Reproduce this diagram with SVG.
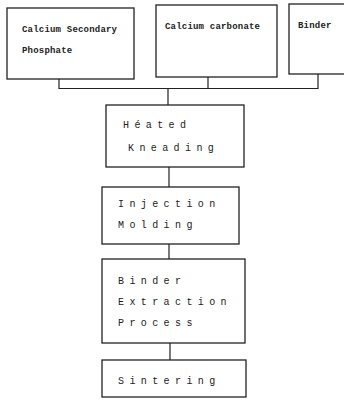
<svg xmlns="http://www.w3.org/2000/svg" width="344" height="401" viewBox="0 0 344 401">
<style>
.box{fill:#fff;stroke:#222;stroke-width:1.3}
.ln{fill:none;stroke:#222;stroke-width:1.2}
.t1{font-family:"Liberation Mono",monospace;font-size:9px;font-weight:bold;fill:#222;letter-spacing:0.2px}
.t2{font-family:"Liberation Mono",monospace;font-size:10px;fill:#222;letter-spacing:5.4px}
</style>
<rect width="344" height="401" fill="#fff"/>
<g id="connectors">
<path class="ln" d="M59 79V88.5H318V74M208 77V88.5M168 88.5V105M169 167V187M169 244V259M170 343V360"/>
</g>
<g id="n1"><rect class="box" x="7" y="8" width="127" height="71"/>
<text class="t1" x="22" y="32">Calcium Secondary</text><text class="t1" x="22" y="53">Phosphate</text></g>
<g id="n2"><rect class="box" x="156" y="5" width="121" height="72"/>
<text class="t1" x="165" y="29">Calcium carbonate</text></g>
<g id="n3"><rect class="box" x="289" y="4" width="60" height="70"/>
<text class="t1" x="298" y="28">Binder</text></g>
<g id="n4"><rect class="box" x="106" y="105" width="138" height="62"/>
<text class="t2" x="123" y="128">Héated</text><text class="t2" x="128" y="151">Kneading</text></g>
<g id="n5"><rect class="box" x="102" y="187" width="137" height="57"/>
<text class="t2" x="118" y="207">Injection</text><text class="t2" x="118" y="228">Molding</text></g>
<g id="n6"><rect class="box" x="102" y="259" width="143" height="84"/>
<text class="t2" x="118" y="284">Binder</text><text class="t2" x="118" y="305">Extraction</text><text class="t2" x="118" y="326">Process</text></g>
<g id="n7"><rect class="box" x="102" y="360" width="144" height="37"/>
<text class="t2" x="118" y="384">Sintering</text></g>
</svg>
